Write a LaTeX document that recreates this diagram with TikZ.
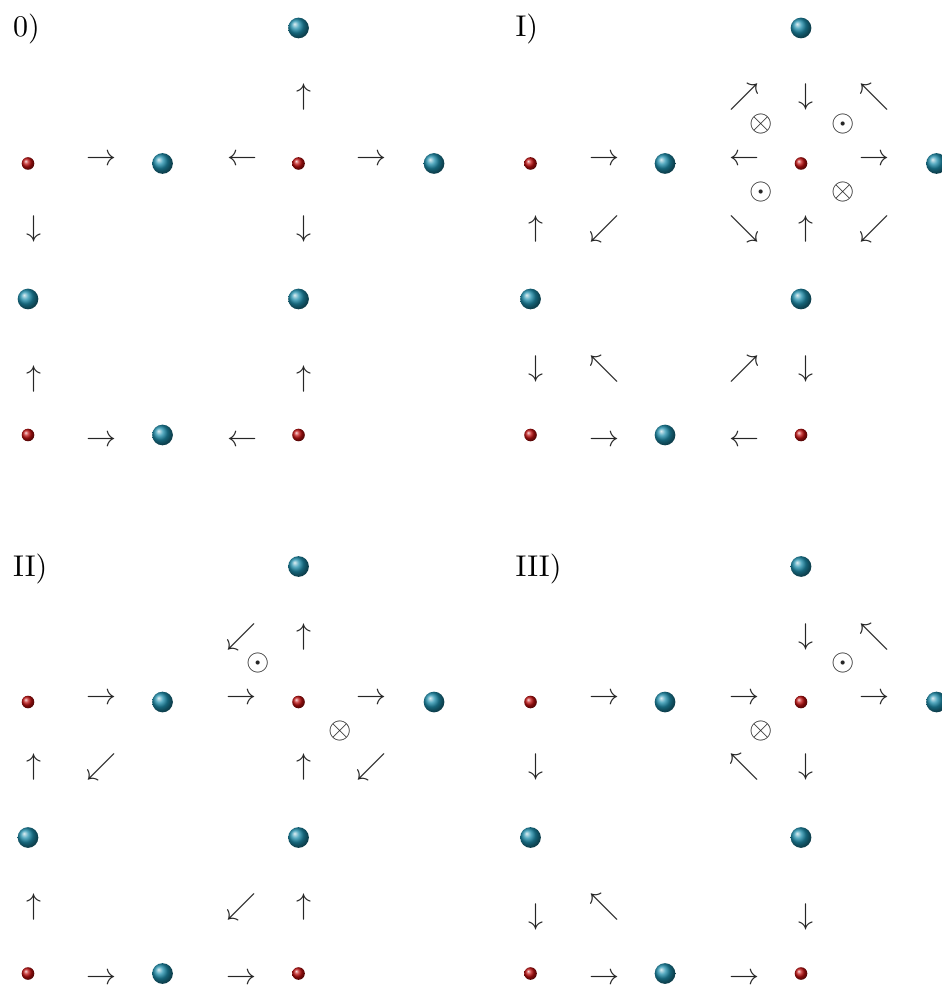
\documentclass[tikz,border=0pt]{standalone}
\definecolor{tealc}{RGB}{30,142,172}
\definecolor{redc}{RGB}{192,16,16}
\tikzset{
  tb/.style={circle,inner sep=0pt,minimum size=6.9pt,shading=ball,ball color=tealc},
  rb/.style={circle,inner sep=0pt,minimum size=4.2pt,shading=ball,ball color=redc},
  sym/.style={inner sep=0pt,outer sep=0pt,text=black!85},
  lab/.style={inner sep=0pt,anchor=base west}
}
\newcommand\lattice[1]{%
  \node[tb] (#1t0) at (298.5,28) {};
  \node[rb] (#1r1) at (28,163.5) {};
  \node[tb] (#1t1) at (162.5,163.5) {};
  \node[rb] (#1r2) at (298.5,163.5) {};
  \node[tb] (#1t2) at (434,163.5) {};
  \node[tb] (#1t3) at (28,299) {};
  \node[tb] (#1t4) at (298.5,299) {};
  \node[rb] (#1r3) at (28,435) {};
  \node[tb] (#1t5) at (162.5,435) {};
  \node[rb] (#1r4) at (298.5,435) {};
}
\newcommand\sy[4]{\node[sym] (#1) at (#2,#3) {$\mathstrut#4$};}
\begin{document}
\begin{tikzpicture}[x={(0.33333pt,0pt)},y={(0pt,-0.33333pt)}]
\useasboundingbox (0,0) rectangle (941,986);
% ---------- Panel 0
\begin{scope}
  \lattice{pa}
  \node[lab] (la) at (12.5,37) {0)};
  \sy{pa1}{97.5}{158.3}{\rightarrow}
  \sy{pa2}{238}{158.3}{\leftarrow}
  \sy{pa3}{367.5}{158.3}{\rightarrow}
  \sy{pa4}{300}{97.5}{\uparrow}
  \sy{pa5}{30}{229}{\downarrow}
  \sy{pa6}{300}{229}{\downarrow}
  \sy{pa7}{30}{379}{\uparrow}
  \sy{pa8}{300}{379}{\uparrow}
  \sy{pa9}{97.5}{439}{\rightarrow}
  \sy{pa10}{238}{439}{\leftarrow}
\end{scope}
% ---------- Panel I
\begin{scope}[shift={(502.5,0)}]
  \lattice{pb}
  \node[lab] (lb) at (12.5,37) {I)};
  \sy{pb1}{98}{158.3}{\rightarrow}
  \sy{pb2}{238.3}{158.3}{\leftarrow}
  \sy{pb3}{367.7}{158.3}{\rightarrow}
  \sy{pb4}{238.3}{97.5}{\nearrow}
  \sy{pb5}{299.2}{97.5}{\downarrow}
  \sy{pb6}{367.7}{97.5}{\nwarrow}
  \sy{pb7}{258.3}{124}{\otimes}
  \sy{pb8}{340.7}{124}{\odot}
  \sy{pb9}{258.3}{192.2}{\odot}
  \sy{pb10}{340.7}{192.2}{\otimes}
  \sy{pb11}{29.8}{229}{\uparrow}
  \sy{pb12}{98}{229}{\swarrow}
  \sy{pb13}{238.3}{229}{\searrow}
  \sy{pb14}{299.2}{229}{\uparrow}
  \sy{pb15}{367.7}{229}{\swarrow}
  \sy{pb16}{29.8}{368.8}{\downarrow}
  \sy{pb17}{98}{368.8}{\nwarrow}
  \sy{pb18}{238.3}{368.8}{\nearrow}
  \sy{pb19}{299.2}{368.8}{\downarrow}
  \sy{pb20}{98}{439}{\rightarrow}
  \sy{pb21}{238.3}{439}{\leftarrow}
\end{scope}
% ---------- Panel II
\begin{scope}[shift={(0,538.5)}]
  \lattice{pc}
  \node[lab] (lc) at (12.5,37.5) {II)};
  \sy{pc1}{237.5}{98.7}{\swarrow}
  \sy{pc2}{300}{98.7}{\uparrow}
  \sy{pc3}{258}{124.5}{\odot}
  \sy{pc4}{97.5}{158.2}{\rightarrow}
  \sy{pc5}{237.5}{158.2}{\rightarrow}
  \sy{pc6}{367.5}{158.2}{\rightarrow}
  \sy{pc7}{340.5}{192}{\otimes}
  \sy{pc8}{30}{228.7}{\uparrow}
  \sy{pc9}{97.5}{228.7}{\swarrow}
  \sy{pc10}{300}{228.7}{\uparrow}
  \sy{pc11}{367.5}{228.7}{\swarrow}
  \sy{pc12}{30}{368.7}{\uparrow}
  \sy{pc13}{237.5}{368.7}{\swarrow}
  \sy{pc14}{300}{368.7}{\uparrow}
  \sy{pc15}{97.5}{438.2}{\rightarrow}
  \sy{pc16}{237.5}{438.2}{\rightarrow}
\end{scope}
% ---------- Panel III
\begin{scope}[shift={(502.5,538.5)}]
  \lattice{pd}
  \node[lab] (ld) at (12.5,37.5) {III)};
  \sy{pd1}{299.2}{98.7}{\downarrow}
  \sy{pd2}{367.7}{98.7}{\nwarrow}
  \sy{pd3}{340.7}{124.5}{\odot}
  \sy{pd4}{98}{158.2}{\rightarrow}
  \sy{pd5}{238.3}{158.2}{\rightarrow}
  \sy{pd6}{367.7}{158.2}{\rightarrow}
  \sy{pd7}{258.3}{192}{\otimes}
  \sy{pd8}{29.8}{228.7}{\downarrow}
  \sy{pd9}{238.3}{228.7}{\nwarrow}
  \sy{pd10}{299.2}{228.7}{\downarrow}
  \sy{pd11}{29.8}{378.7}{\downarrow}
  \sy{pd12}{98}{368.7}{\nwarrow}
  \sy{pd13}{299.2}{378.7}{\downarrow}
  \sy{pd14}{98}{438.2}{\rightarrow}
  \sy{pd15}{238.3}{438.2}{\rightarrow}
\end{scope}
\end{tikzpicture}
\end{document}
